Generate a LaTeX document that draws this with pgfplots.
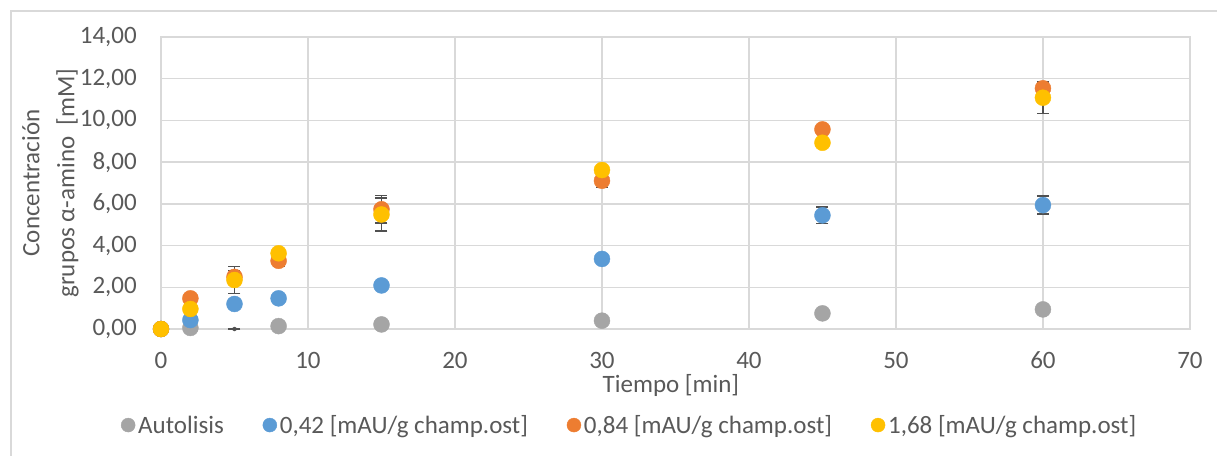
\documentclass[border=0pt]{standalone}
\usepackage{fontspec}
\setmainfont{Carlito}
\usepackage{pgfplots}
\pgfplotsset{compat=1.18}
\definecolor{cgray}{HTML}{A5A5A5}
\definecolor{cblue}{HTML}{5B9BD5}
\definecolor{corange}{HTML}{ED7D31}
\definecolor{cyellow}{HTML}{FFC000}
\definecolor{ctext}{HTML}{595959}
\definecolor{cgrid}{HTML}{D9D9D9}
\definecolor{cerr}{HTML}{505050}
\begin{document}
\begin{tikzpicture}
\path[use as bounding box] (0pt,0pt) rectangle (1217pt,-455pt);
\draw[cgrid, line width=1.3pt] (11pt,-470pt) -- (11pt,-11pt) -- (1230pt,-11pt);
\begin{axis}[
  at={(161pt,-329pt)}, anchor=south west,
  scale only axis, width=1029pt, height=292pt,
  xmin=0, xmax=70, ymin=0, ymax=14,
  xtick distance=10, ytick distance=2,
  grid=major, grid style={cgrid, line width=1.3pt},
  axis line style={cgrid, line width=1.3pt},
  major tick length=0pt,
  tick label style={font=\fontsize{25}{29}\selectfont, text=ctext, inner sep=0pt},
  /pgf/number format/assume math mode=true,
  yticklabel style={anchor=east, xshift=-24pt, /pgf/number format/.cd, fixed, fixed zerofill, precision=2, use comma},
  xticklabel style={anchor=center, yshift=-31pt},
  xlabel={Tiempo [min]},
  xlabel style={at={(axis description cs:0.4956,-0.192)}, anchor=center, font=\fontsize{25}{29}\selectfont, text=ctext, inner sep=0pt},
  ylabel={Concentración\\grupos α-amino~~[mM]},
  ylabel style={at={(axis description cs:-0.1074,0.5)}, anchor=center, align=center, font=\fontsize{25}{35}\selectfont, text=ctext, inner sep=0pt},
  legend columns=4,
  legend style={at={(0.456,-0.329)}, anchor=center, draw=none, fill=none,
    font=\fontsize{25}{29}\selectfont, text=ctext,
    nodes={inner xsep=3pt, inner ysep=0pt},
    /tikz/every even column/.append style={column sep=36pt}},
  legend image code/.code={\draw[#1, mark size=7pt] plot coordinates {(0pt,0pt)};},
  error bars/y dir=both, error bars/y explicit,
  error bars/error bar style={cerr, line width=1.6pt},
  error bars/error mark options={rotate=90, mark size=6pt, line width=1.6pt, cerr},
]
\addplot[only marks, mark=*, mark size=8pt, color=cgray, mark options={fill=cgray, draw=none}] table[x=t, y=c, y error=e] {
t c e
0 0 0
2 0.05 0.02
8 0.14 0.03
15 0.22 0.04
30 0.40 0.05
45 0.75 0.06
60 0.94 0.08
};
\addlegendentry{Autolisis}
\addplot[forget plot, only marks, mark=none, color=cerr] table[x=t, y=c, y error=e] {
t c e
5 0 0.001
};
\addplot[only marks, mark=*, mark size=8pt, color=cblue, mark options={fill=cblue, draw=none}] table[x=t, y=c, y error=e] {
t c e
0 0 0
2 0.43 0.05
5 1.20 0.10
8 1.47 0.08
15 2.09 0.10
30 3.36 0.12
45 5.45 0.40
60 5.94 0.44
};
\addlegendentry{0,42 [mAU/g champ.ost]}
\addplot[only marks, mark=*, mark size=8pt, color=corange, mark options={fill=corange, draw=none}] table[x=t, y=c, y error=e] {
t c e
0 0 0
2 1.47 0.10
5 2.50 0.30
8 3.27 0.27
15 5.74 0.66
30 7.11 0.33
45 9.57 0.10
60 11.54 0.20
};
\addlegendentry{0,84 [mAU/g champ.ost]}
\addplot[only marks, mark=*, mark size=8pt, color=cyellow, mark options={fill=cyellow, draw=none}] table[x=t, y=c, y error=e] {
t c e
0 0 0
2 0.96 0.10
5 2.35 0.65
8 3.63 0.10
15 5.49 0.80
30 7.62 0.15
45 8.93 0.10
60 11.09 0.75
};
\addlegendentry{1,68 [mAU/g champ.ost]}
\end{axis}
\end{tikzpicture}
\end{document}
